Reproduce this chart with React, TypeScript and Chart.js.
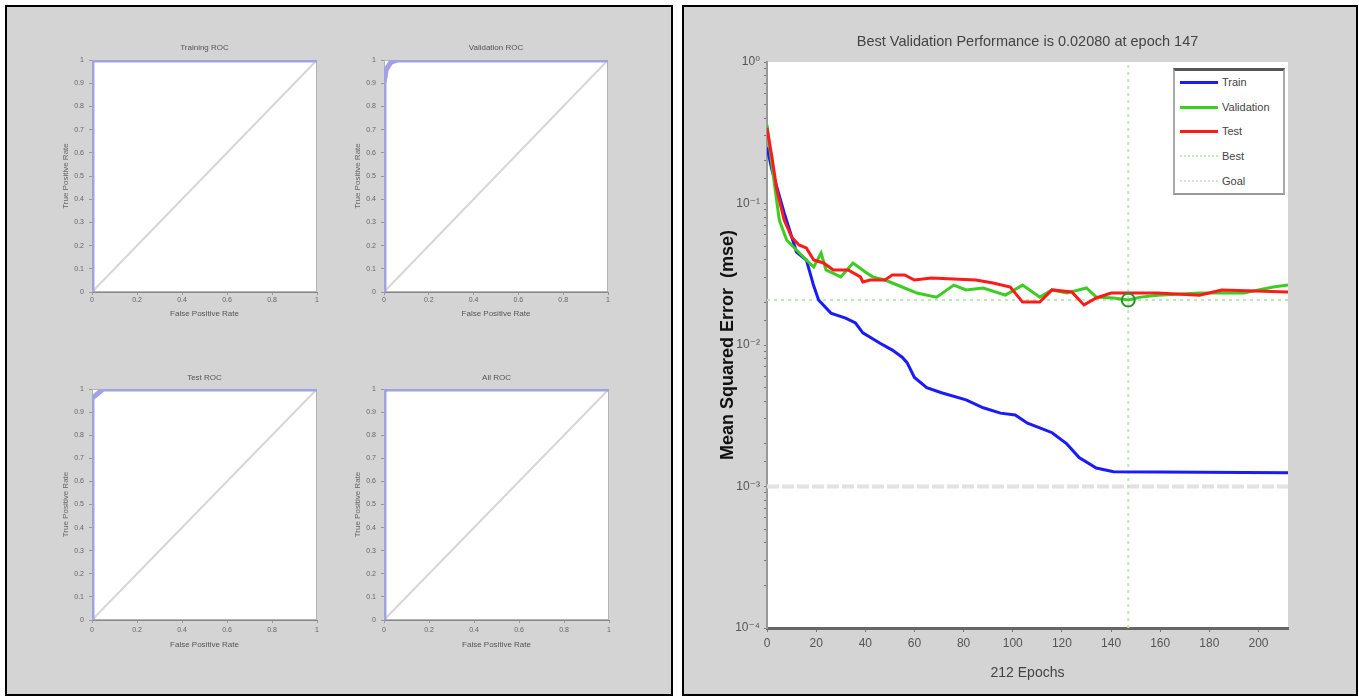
import React, { useEffect, useRef } from 'react';
import { Chart, registerables } from 'chart.js';

Chart.register(...registerables);

// ---------------- ROC data ----------------
const rocTitles = ['Training ROC', 'Validation ROC', 'Test ROC', 'All ROC'];
const trainingRocFpr = [0, 0, 1];
const trainingRocTpr = [0, 1, 1];
const validationRocFpr = [0, 0, 0.01, 0.03, 0.06, 1];
const validationRocTpr = [0, 0.9, 0.96, 0.99, 1, 1];
const testRocFpr = [0, 0, 0.05, 1];
const testRocTpr = [0, 0.96, 1, 1];
const allRocFpr = [0, 0, 0.01, 1];
const allRocTpr = [0, 0.99, 1, 1];
const chanceFpr = [0, 1];
const chanceTpr = [0, 1];
const rocXTickValues = [0, 0.2, 0.4, 0.6, 0.8, 1];
const rocYTickValues = [0, 0.1, 0.2, 0.3, 0.4, 0.5, 0.6, 0.7, 0.8, 0.9, 1];
const rocXLabel = 'False Positive Rate';
const rocYLabel = 'True Positive Rate';

// ---------------- performance data ----------------
const perfTitle = 'Best Validation Performance is 0.02080 at epoch 147';
const perfXLabel = '212 Epochs';
const perfYLabel = 'Mean Squared Error  (mse)';
const epochTickValues = [0, 20, 40, 60, 80, 100, 120, 140, 160, 180, 200];
const mseDecadeLabels = ['10⁰', '10⁻¹', '10⁻²', '10⁻³', '10⁻⁴'];
const maxEpoch = 212;
const bestEpoch = 147;
const bestMse = 0.0208;
const goalMse = 0.001;
const mseMin = 0.0001;
const mseMax = 1;

const trainEpochs = [0, 2, 7, 12, 16, 19, 21, 26, 32, 36, 39, 46, 51, 55, 57, 60, 65, 71, 81, 88, 95, 101, 106, 111, 116, 122, 127, 134, 141, 212];
const trainMse = [0.25, 0.173, 0.0857, 0.0454, 0.0399, 0.0262, 0.0208, 0.0168, 0.0155, 0.0143, 0.0122, 0.0103, 0.0092, 0.0082, 0.0075, 0.0059, 0.005, 0.0046, 0.0041, 0.0036, 0.0033, 0.0032, 0.0028, 0.0026, 0.0024, 0.002, 0.0016, 0.00135, 0.00127, 0.00125];

const validationEpochs = [0, 2, 5, 8, 12, 16, 19, 22, 24, 30, 35, 40, 43, 48, 55, 61, 69, 76, 81, 88, 97, 104, 111, 116, 122, 130, 134, 141, 147, 152, 159, 176, 194, 206, 212];
const validationMse = [0.359, 0.187, 0.0764, 0.0552, 0.0469, 0.0399, 0.0356, 0.0447, 0.0339, 0.0303, 0.038, 0.0328, 0.0303, 0.0288, 0.0257, 0.0233, 0.0218, 0.0265, 0.0245, 0.0253, 0.0225, 0.0265, 0.0218, 0.0245, 0.0233, 0.0253, 0.0218, 0.0215, 0.0208, 0.0218, 0.0225, 0.0233, 0.0233, 0.0257, 0.0265];

const testEpochs = [0, 2, 4, 7, 10, 13, 16, 19, 23, 27, 33, 38, 39, 42, 48, 51, 56, 60, 67, 85, 92, 99, 104, 111, 116, 124, 129, 134, 140, 149, 159, 176, 185, 212];
const testMse = [0.342, 0.213, 0.125, 0.0764, 0.058, 0.0509, 0.0485, 0.0399, 0.038, 0.0339, 0.0339, 0.0303, 0.0279, 0.0288, 0.0288, 0.0313, 0.0313, 0.0288, 0.0297, 0.0288, 0.0274, 0.0257, 0.0201, 0.0201, 0.0245, 0.0237, 0.0192, 0.0215, 0.0233, 0.0233, 0.0233, 0.0225, 0.0245, 0.0237];

const legendLabels = ['Train', 'Validation', 'Test', 'Best', 'Goal'];

// ---------------- styling / layout ----------------
const FONT = "'Liberation Sans', 'DejaVu Sans', Arial, sans-serif";
const legendStyles = [
  '3px solid #1a1aff',
  '3px solid #3ccc22',
  '3px solid #ff1a1a',
  '2px dotted #c8e6c0',
  '2px dotted #dddddd',
];

const rocFpr = [trainingRocFpr, validationRocFpr, testRocFpr, allRocFpr];
const rocTpr = [trainingRocTpr, validationRocTpr, testRocTpr, allRocTpr];

const rocAreas = [
  { l: 92, t: 60, r: 317, b: 292, row: 0 },
  { l: 384, t: 60, r: 608, b: 292, row: 0 },
  { l: 92, t: 389, r: 317, b: 620, row: 1 },
  { l: 384, t: 389, r: 609, b: 620, row: 1 },
];

const zip = (xs: number[], ys: number[]) => xs.map((x, i) => ({ x, y: ys[i] }));

const plotBackground = {
  id: 'plotBackground',
  beforeDraw(chart: any) {
    const { ctx, chartArea: a } = chart;
    ctx.save();
    ctx.fillStyle = '#ffffff';
    ctx.fillRect(a.left, a.top, a.right - a.left, a.bottom - a.top);
    ctx.restore();
  },
};

const plotFrame = {
  id: 'plotFrame',
  beforeDatasetsDraw(chart: any) {
    const { ctx, chartArea: a } = chart;
    ctx.save();
    ctx.strokeStyle = '#b4b4b4';
    ctx.lineWidth = 1;
    ctx.strokeRect(a.left + 0.5, a.top + 0.5, a.right - a.left - 1, a.bottom - a.top - 1);
    ctx.restore();
  },
};

function ChartCanvas({ box, make }: { box: { left: number; top: number; width: number; height: number }; make: () => any }) {
  const ref = useRef<HTMLCanvasElement | null>(null);
  useEffect(() => {
    if (!ref.current) return;
    const chart = new Chart(ref.current, make());
    return () => chart.destroy();
  }, []);
  return (
    <canvas
      ref={ref}
      width={box.width}
      height={box.height}
      style={{ position: 'absolute', left: box.left, top: box.top, width: box.width, height: box.height }}
    />
  );
}

const ROC_Y_W = 40;
const ROC_TITLE_H = 22;
const ROC_X_H = 32;
const ROC_PAD_R = 10;

function rocBox(i: number) {
  const a = rocAreas[i];
  return {
    left: a.l - ROC_Y_W,
    top: a.t - ROC_TITLE_H,
    width: a.r - a.l + ROC_Y_W + ROC_PAD_R,
    height: a.b - a.t + ROC_TITLE_H + ROC_X_H,
  };
}

function rocConfig(i: number) {
  const row = rocAreas[i].row;
  const small = { family: FONT, size: 7 };
  const label = { family: FONT, size: 8 };
  return {
    type: 'line',
    data: {
      datasets: [
        {
          data: zip(rocFpr[i], rocTpr[i]),
          borderColor: '#a2a2e2',
          borderWidth: 5,
          pointRadius: 0,
          tension: 0,
          order: 0,
        },
        {
          data: zip(chanceFpr, chanceTpr),
          borderColor: '#d6d6d6',
          borderWidth: 2,
          pointRadius: 0,
          tension: 0,
          order: 1,
        },
      ],
    },
    options: {
      animation: false,
      responsive: false,
      devicePixelRatio: 1,
      events: [],
      layout: { padding: { left: 0, top: 0, right: ROC_PAD_R, bottom: 0 } },
      plugins: {
        legend: { display: false },
        tooltip: { enabled: false },
        title: {
          display: true,
          fullSize: false,
          text: rocTitles[i],
          color: '#555',
          font: { family: FONT, size: 8, weight: 'normal' },
          padding: row === 0 ? { top: 5.2, bottom: 7.2 } : { top: 6.2, bottom: 6.2 },
        },
      },
      scales: {
        x: {
          type: 'linear',
          min: 0,
          max: 1,
          afterFit: (s: any) => { s.height = ROC_X_H; },
          afterBuildTicks: (s: any) => { s.ticks = rocXTickValues.map((v) => ({ value: v })); },
          ticks: { callback: (v: any) => String(v), font: small, color: '#666', padding: row === 0 ? 0.5 : 3, maxRotation: 0, autoSkip: false },
          grid: { drawOnChartArea: false, tickLength: 3, color: '#999' },
          border: { color: '#888', width: 1 },
          title: { display: true, text: rocXLabel, color: '#555', font: label, padding: { top: 0, bottom: row === 0 ? 5.2 : 2.2 } },
        },
        y: {
          type: 'linear',
          min: 0,
          max: 1,
          afterFit: (s: any) => { s.width = ROC_Y_W; },
          afterBuildTicks: (s: any) => { s.ticks = rocYTickValues.map((v) => ({ value: v })); },
          ticks: { callback: (v: any) => String(v), font: small, color: '#666', padding: 5, autoSkip: false },
          grid: { drawOnChartArea: false, tickLength: 3, color: '#999' },
          border: { color: '#999', width: 1 },
          title: { display: true, text: rocYLabel, color: '#666', font: label, padding: { top: 9.2, bottom: 0 } },
        },
      },
    },
    plugins: [plotBackground, plotFrame],
  };
}

// right chart geometry
const PERF_BOX = { left: 690, top: 22, width: 660, height: 668 };
const PERF_Y_W = 77;
const PERF_X_H = 62;
const PERF_PAD_R = 62;

function perfConfig() {
  const tickFont = { family: FONT, size: 12 };
  return {
    type: 'line',
    data: {
      datasets: [
        { label: 'BestPoint', data: [{ x: bestEpoch, y: bestMse }], showLine: false, pointRadius: 6.5, pointBorderWidth: 2, pointBorderColor: '#2b8f2b', pointBackgroundColor: 'rgba(0,0,0,0)', order: 0 },
        { label: legendLabels[2], data: zip(testEpochs, testMse), borderColor: '#ff1a1a', borderWidth: 3, pointRadius: 0, tension: 0, order: 1 },
        { label: legendLabels[1], data: zip(validationEpochs, validationMse), borderColor: '#3ccc22', borderWidth: 3, pointRadius: 0, tension: 0, order: 2 },
        { label: legendLabels[0], data: zip(trainEpochs, trainMse), borderColor: '#1a1aff', borderWidth: 3, pointRadius: 0, tension: 0, order: 3 },
        { label: legendLabels[3], data: [{ x: 0, y: bestMse }, { x: maxEpoch, y: bestMse }], borderColor: '#c4e4ba', borderWidth: 2, borderDash: [3, 4], pointRadius: 0, order: 5 },
        { label: legendLabels[3] + ' epoch', data: [{ x: bestEpoch, y: mseMin }, { x: bestEpoch, y: mseMax }], borderColor: '#c4e4ba', borderWidth: 2, borderDash: [3, 4], pointRadius: 0, order: 5 },
        { label: legendLabels[4], data: [{ x: 0, y: goalMse }, { x: maxEpoch, y: goalMse }], borderColor: '#e2e2e2', borderWidth: 4, borderDash: [12, 3], pointRadius: 0, order: 6 },
      ],
    },
    options: {
      animation: false,
      responsive: false,
      devicePixelRatio: 1,
      events: [],
      layout: { padding: { left: 0, top: 0, right: PERF_PAD_R, bottom: 0 } },
      plugins: {
        legend: { display: false },
        tooltip: { enabled: false },
        title: {
          display: true,
          fullSize: false,
          text: perfTitle,
          color: '#444',
          font: { family: FONT, size: 14.5, weight: 'normal' },
          padding: { top: 11.3, bottom: 11.3 },
        },
      },
      scales: {
        x: {
          type: 'linear',
          min: 0,
          max: maxEpoch,
          afterFit: (s: any) => { s.height = PERF_X_H; },
          afterBuildTicks: (s: any) => { s.ticks = epochTickValues.map((v) => ({ value: v })); },
          ticks: { callback: (v: any) => String(v), font: tickFont, color: '#555', padding: 4, maxRotation: 0, autoSkip: false },
          grid: { drawOnChartArea: false, tickLength: 4, color: '#777' },
          border: { color: '#666', width: 3 },
          title: { display: true, text: perfXLabel, color: '#444', font: { family: FONT, size: 14 }, padding: { top: 0, bottom: 8.6 } },
        },
        y: {
          type: 'logarithmic',
          min: mseMin,
          max: mseMax,
          afterFit: (s: any) => { s.width = PERF_Y_W; },
          ticks: {
            autoSkip: false,
            font: tickFont,
            color: '#555',
            padding: 4,
            callback: (v: any) => {
              const l = Math.log10(Number(v));
              const e = Math.round(l);
              return Math.abs(l - e) < 1e-6 ? mseDecadeLabels[-e] : '';
            },
          },
          grid: { drawOnChartArea: false, tickLength: 3, color: '#777' },
          border: { color: '#999', width: 2 },
          title: { display: true, text: perfYLabel, color: '#111', font: { family: FONT, size: 18, weight: 'bold' }, padding: { top: 27, bottom: 0 } },
        },
      },
    },
    plugins: [plotBackground],
  };
}

function PerfLegend() {
  const rowsTop = [14, 39, 63, 88, 113];
  return (
    <div
      style={{
        position: 'absolute',
        left: 1173,
        top: 68,
        width: 108,
        height: 122,
        background: '#fff',
        borderTop: '3px solid #555',
        borderLeft: '2px solid #aaa',
        borderRight: '2px solid #aaa',
        borderBottom: '2px solid #999',
        fontFamily: FONT,
      }}
    >
      {legendLabels.map((lab, i) => (
        <div key={lab} style={{ position: 'absolute', left: 0, top: rowsTop[i] - 3 - 8, height: 16, width: 108 }}>
          <div style={{ position: 'absolute', left: 5, top: 7, width: 38, borderTop: legendStyles[i] }} />
          <div style={{ position: 'absolute', left: 47, top: 0, fontSize: 11, lineHeight: '16px', color: '#444' }}>{lab}</div>
        </div>
      ))}
    </div>
  );
}

export default function App() {
  return (
    <div style={{ position: 'fixed', left: 0, top: 0, width: 1359, height: 698, background: '#fff', overflow: 'hidden' }}>
      <div style={{ position: 'absolute', left: 5, top: 5, width: 664, height: 687, background: '#d4d4d4', border: '2px solid #000' }} />
      <div style={{ position: 'absolute', left: 682, top: 5, width: 672, height: 687, background: '#d4d4d4', border: '2px solid #000' }} />
      {rocAreas.map((_, i) => (
        <ChartCanvas key={i} box={rocBox(i)} make={() => rocConfig(i)} />
      ))}
      <ChartCanvas box={PERF_BOX} make={perfConfig} />
      <PerfLegend />
    </div>
  );
}
